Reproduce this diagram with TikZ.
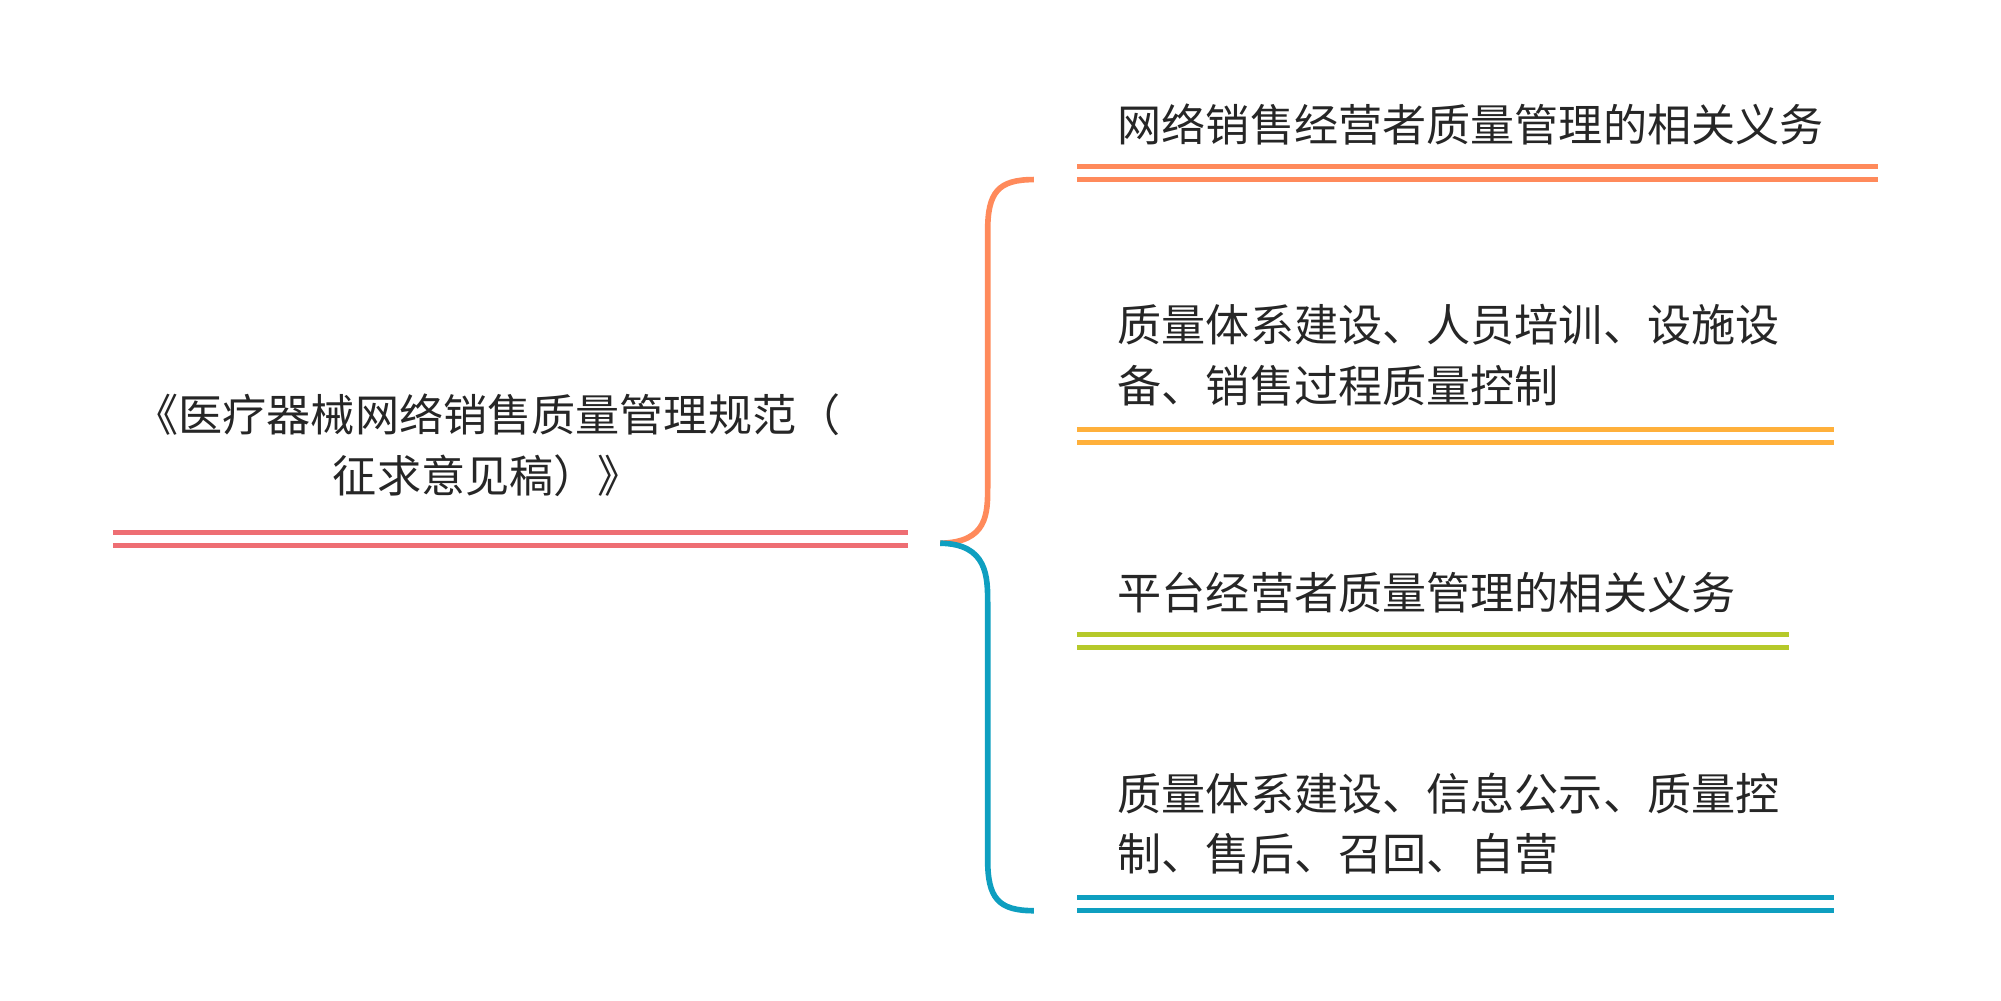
\documentclass[tikz,border=0pt]{standalone}
\usepackage{fontspec}
\setmainfont{Noto Sans CJK SC}
\definecolor{cred}{HTML}{EE6E73}
\definecolor{corange}{HTML}{FF8A5B}
\definecolor{cyellow}{HTML}{FFB03B}
\definecolor{cgreen}{HTML}{B5C92A}
\definecolor{cblue}{HTML}{0E9FC0}
\tikzset{x=0.5pt,y=-0.5pt,
  lbl/.style={font=\fontsize{17.2}{23.5}\selectfont,text=black!85,inner sep=0pt},
  dbl/.style={line width=2pt}}
\begin{document}
\begin{tikzpicture}
\useasboundingbox (0,0) rectangle (1560,780);
\node[lbl,align=center] (root) at (380,347) {《医疗器械网络销售质量管理规范（\\征求意见稿）》};
\foreach \y in {415,425} \draw[dbl,cred] (88,\y) -- (708,\y);
\coordinate (r) at (733,423.5);
\node[lbl,anchor=west] (b1) at (871,97) {网络销售经营者质量管理的相关义务};
\node[lbl,anchor=west,align=left] (b2) at (871,277) {质量体系建设、人员培训、设施设\\备、销售过程质量控制};
\node[lbl,anchor=west] (b3) at (871,462) {平台经营者质量管理的相关义务};
\node[lbl,anchor=west,align=left] (b4) at (871,642) {质量体系建设、信息公示、质量控\\制、售后、召回、自营};
\foreach \y in {130,140} \draw[dbl,corange] (840,\y) -- (1464,\y);
\foreach \y in {335,345} \draw[dbl,cyellow] (840,\y) -- (1430,\y);
\foreach \y in {495,505} \draw[dbl,cgreen] (840,\y) -- (1395,\y);
\foreach \y in {700,710} \draw[dbl,cblue] (840,\y) -- (1430,\y);
\draw[line width=2.2pt,corange] (r) .. controls (770,423) and (770,400) .. (770,380) -- (770,180) .. controls (770,150) and (778,140) .. (806,140);
\draw[line width=2.2pt,cblue] (r) .. controls (770,424) and (770,450) .. (770,470) -- (770,670) .. controls (770,700) and (778,710) .. (806,710);
\end{tikzpicture}
\end{document}
